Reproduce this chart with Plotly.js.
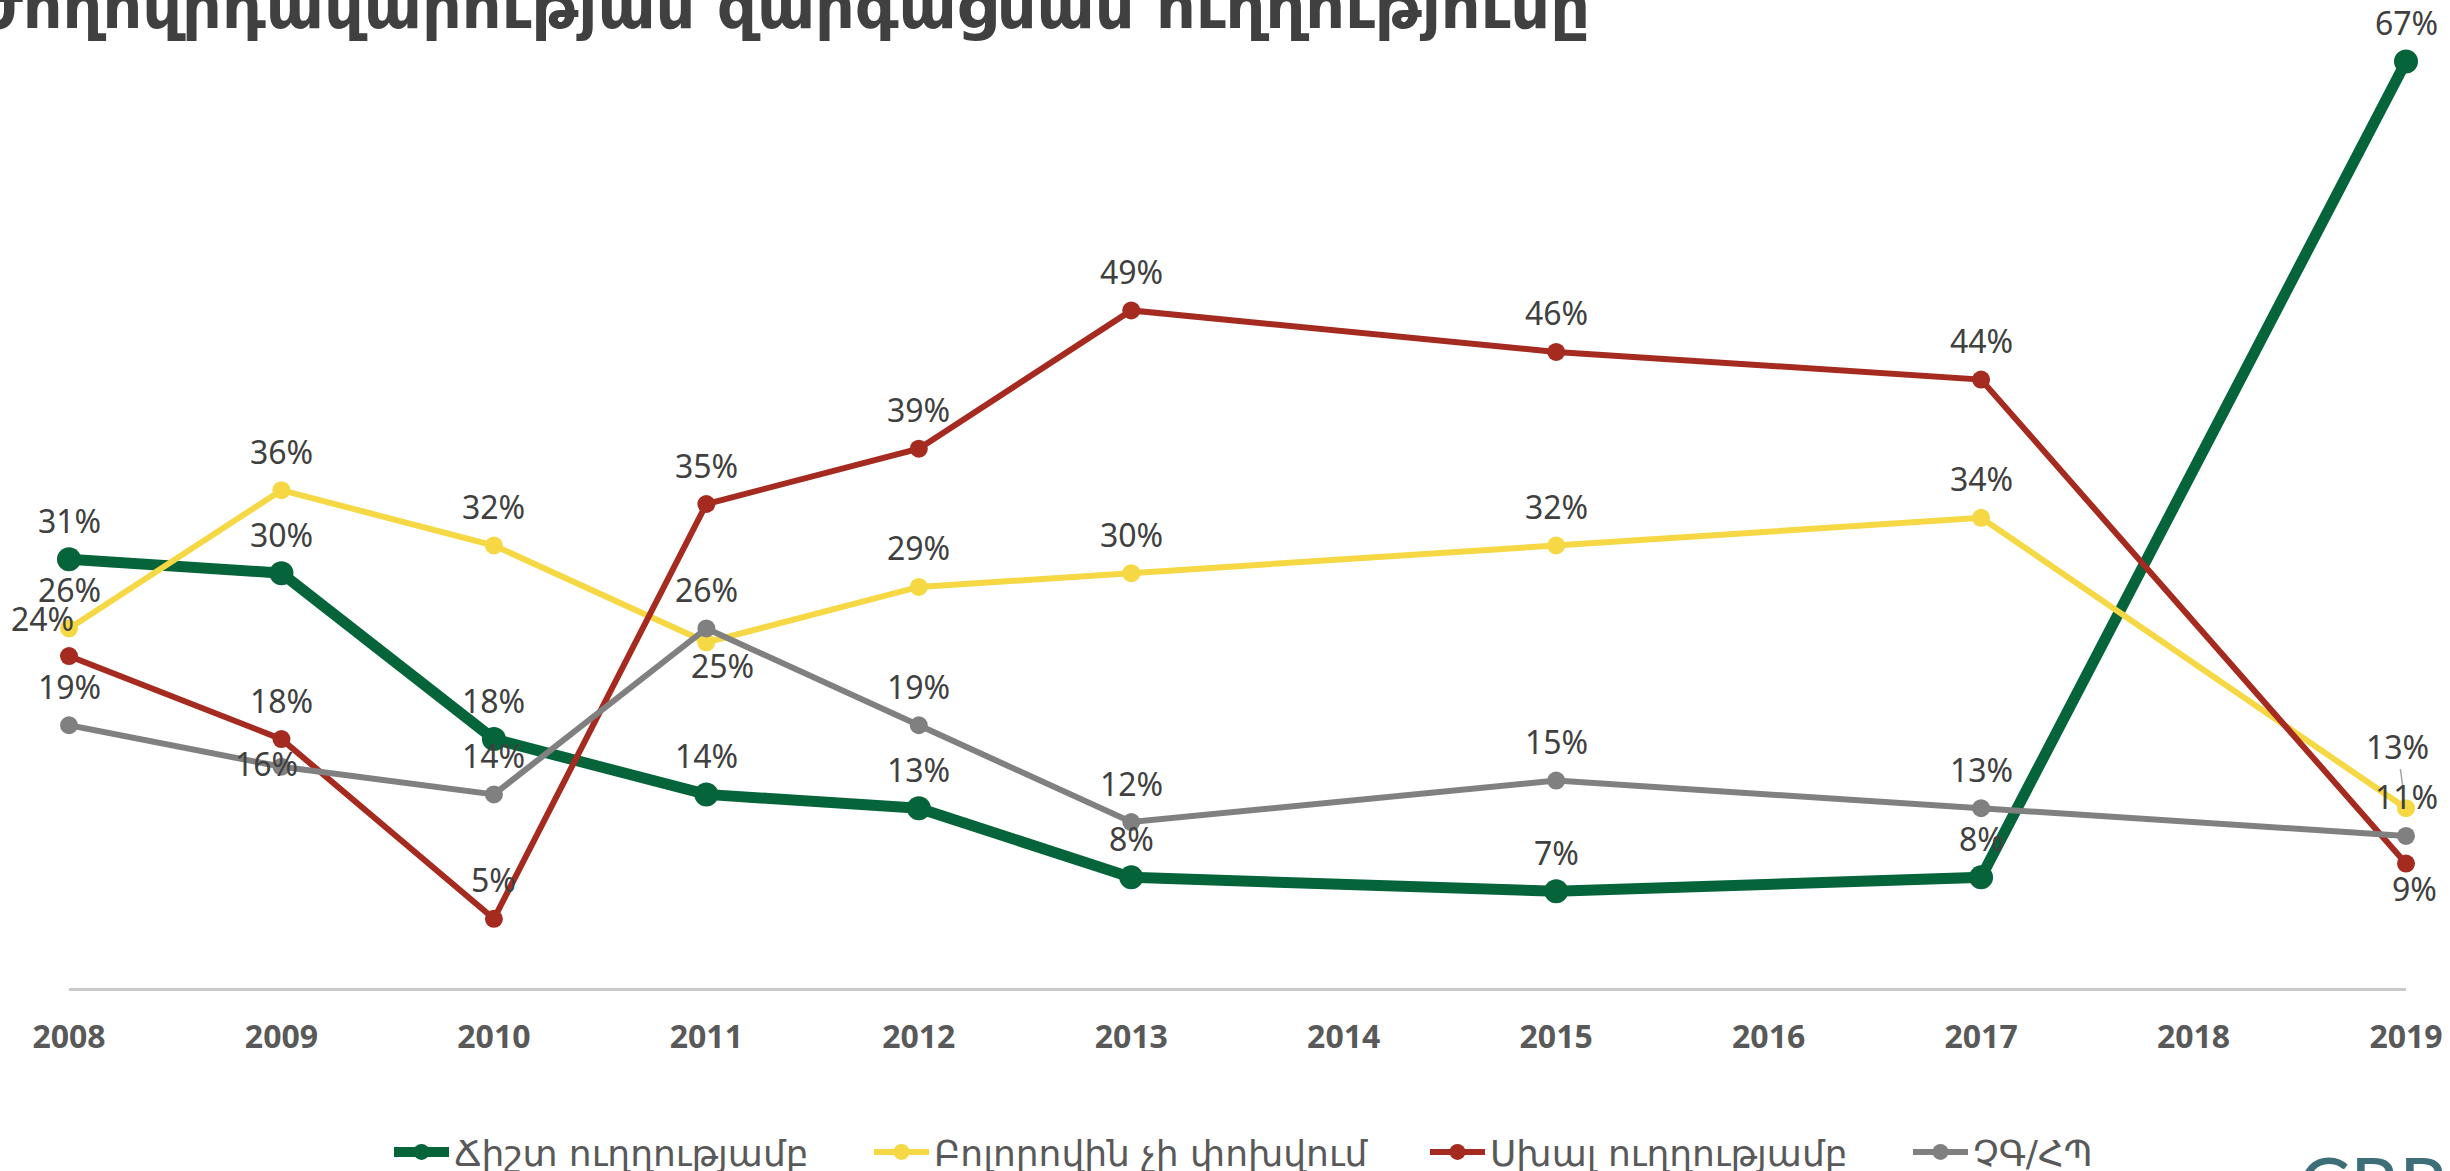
<!DOCTYPE html>
<html>
<head>
<meta charset="utf-8">
<script src="https://cdn.plot.ly/plotly-3.0.1.min.js"></script>
<style>
  html, body { margin: 0; padding: 0; background: #ffffff; }
  #chart { width: 2450px; height: 1171px; }
</style>
</head>
<body>
<div id="chart"></div>
<script>
// ---------------- DATA ----------------
const years = [2008, 2009, 2010, 2011, 2012, 2013, 2015, 2017, 2019];
const tickYears = [2008, 2009, 2010, 2011, 2012, 2013, 2014, 2015, 2016, 2017, 2018, 2019];
const tickLabels = ['2008', '2009', '2010', '2011', '2012', '2013', '2014', '2015', '2016', '2017', '2018', '2019'];

const seriesNames = ['Ճիշտ ուղղությամբ', 'Բոլորովին չի փոխվում', 'Սխալ ուղղությամբ', 'ՉԳ/ՀՊ'];
const rightDirection = [31, 30, 18, 14, 13, 8, 7, 8, 67];
const noChange = [26, 36, 32, 25, 29, 30, 32, 34, 13];
const wrongDirection = [24, 18, 5, 35, 39, 49, 46, 44, 9];
const dontKnow = [19, 16, 14, 26, 19, 12, 15, 13, 11];

const titleText = 'Ժողովրդավարության զարգացման ուղղությունը';
const logoText = 'CRRC';

// ---------------- STYLE ----------------
const seriesValues = [rightDirection, noChange, wrongDirection, dontKnow];
const colors = ['#05643A', '#F5D844', '#A52A1F', '#808080'];
const lineWidths = [11, 6, 6, 6];
const markerSizes = [24, 18, 18, 18];

// label placement codes per point: t = above, b = below, tl = above-left, br = below-right, c = on point (left), call = callout
const labelPos = [
  ['t', 't', 't', 't', 't', 't', 't', 't', 't'],
  ['t', 't', 't', 'b', 't', 't', 't', 't', 'call'],
  ['tl', 't', 't', 't', 't', 't', 't', 't', 'br'],
  ['t', 'c', 't', 't', 't', 't', 't', 't', 't']
];
const posShift = {
  t: [0, 39], b: [16, -23], tl: [-27, 38], br: [8, -25], c: [-15, 3]
};

const labelFont = { family: 'Noto Sans, Open Sans, sans-serif', size: 32, color: '#404040' };
const armFont = 'DejaVu Sans, Noto Sans, sans-serif';

const legendX = [389, 869, 1425, 1908];

const traces = seriesValues.map((vals, i) => ({
  type: 'scatter',
  mode: 'lines+markers',
  x: years,
  y: vals,
  name: seriesNames[i],
  line: { color: colors[i], width: lineWidths[i] },
  marker: { color: colors[i], size: markerSizes[i] },
  cliponaxis: false,
  hoverinfo: 'skip',
  legend: i === 0 ? 'legend' : 'legend' + (i + 1)
}));

const annotations = [];
seriesValues.forEach((vals, i) => {
  vals.forEach((v, j) => {
    const code = labelPos[i][j];
    if (code === 'call') {
      annotations.push({
        xref: 'x', yref: 'y', x: years[j], y: v,
        text: v + '%', font: labelFont,
        showarrow: true, arrowhead: 0, arrowwidth: 1.5, arrowcolor: '#a6a6a6',
        ax: -9, ay: -62, standoff: 20
      });
    } else {
      const s = posShift[code];
      annotations.push({
        xref: 'x', yref: 'y', x: years[j], y: v,
        text: v + '%', font: labelFont, showarrow: false,
        xshift: s[0], yshift: s[1]
      });
    }
  });
});

annotations.push({
  xref: 'paper', yref: 'paper', x: (2296 - 69) / 2337, y: -0.152,
  xanchor: 'left', yanchor: 'top', showarrow: false,
  text: logoText,
  font: { family: 'Lato, Open Sans, sans-serif', size: 78, color: '#3E6E78' }
});

const legendBase = {
  orientation: 'h', xref: 'container', yref: 'container',
  xanchor: 'left', yanchor: 'middle', y: 1 - 1152 / 1171,
  bgcolor: 'rgba(0,0,0,0)', itemwidth: 55,
  font: { family: armFont, size: 36, color: '#595959' }
};

const layout = {
  width: 2450, height: 1171,
  paper_bgcolor: '#ffffff', plot_bgcolor: '#ffffff',
  margin: { l: 69, r: 44, t: 20, b: 183 },
  title: {
    text: titleText,
    xref: 'container', yref: 'container',
    x: 1590 / 2450, xanchor: 'right',
    y: 1 - 6 / 1171, yanchor: 'middle',
    font: { family: armFont, size: 62, color: '#404040', weight: 'bold' }
  },
  xaxis: {
    range: [2008, 2019],
    tickmode: 'array', tickvals: tickYears, ticktext: tickLabels,
    showgrid: false, zeroline: false,
    showline: true, linecolor: '#c9c9c9', linewidth: 2.5,
    ticks: '', ticklabelstandoff: 19,
    tickfont: { family: 'Noto Sans, Open Sans, sans-serif', size: 32, color: '#595959', weight: 'bold' }
  },
  yaxis: {
    range: [0, 70], visible: false, showgrid: false, zeroline: false
  },
  showlegend: true,
  legend: Object.assign({}, legendBase, { x: legendX[0] / 2450 }),
  legend2: Object.assign({}, legendBase, { x: legendX[1] / 2450 }),
  legend3: Object.assign({}, legendBase, { x: legendX[2] / 2450 }),
  legend4: Object.assign({}, legendBase, { x: legendX[3] / 2450 }),
  annotations: annotations
};

Plotly.newPlot('chart', traces, layout, { staticPlot: true, displayModeBar: false });
</script>
</body>
</html>
